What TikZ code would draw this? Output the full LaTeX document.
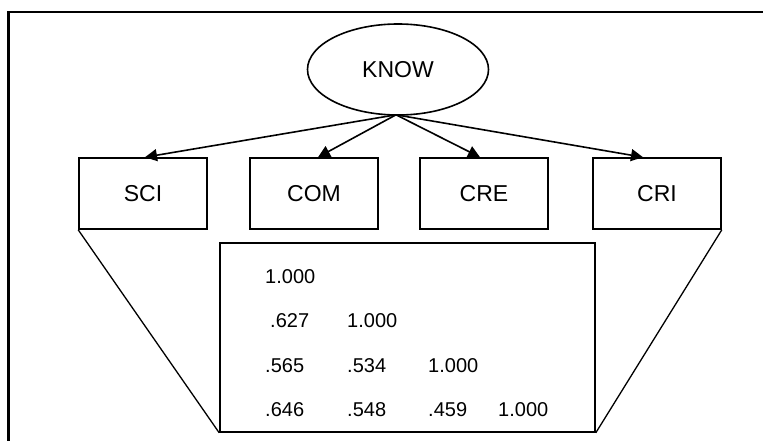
\documentclass[tikz,border=0pt]{standalone}
\usepackage{fontspec}
\setmainfont{Liberation Sans}
\usetikzlibrary{shapes.geometric,arrows.meta,calc}
\begin{document}
\begin{tikzpicture}[x=1pt,y=-1pt,
  latent/.style={draw,ellipse,line width=1.6pt,minimum width=181pt,minimum height=91pt,inner sep=0pt,font=\fontsize{23}{23}\selectfont},
  observed/.style={draw,rectangle,line width=1.6pt,minimum width=128pt,minimum height=71pt,inner sep=0pt,font=\fontsize{23}{23}\selectfont},
  path/.style={line width=1.6pt,-{Triangle[length=12pt,width=12pt]}},
  num/.style={anchor=base west,inner sep=0pt,font=\fontsize{20}{20}\selectfont},
  link/.style={line width=1.3pt}]
\useasboundingbox (0,0) rectangle (763,441);
% outer frame
\draw[line width=2.6pt] (8.3,445) -- (8.3,12) -- (770,12);
% latent factor and indicators
\node[latent] (KNOW) at (398,69.5) {KNOW};
\node[observed] (SCI) at (143,193.5) {SCI};
\node[observed] (COM) at (314,193.5) {COM};
\node[observed] (CRE) at (484,193.5) {CRE};
\node[observed] (CRI) at (657,193.5) {CRI};
\draw[path] ($(KNOW.south)+(-2,-1)$) -- ($(SCI.north)+(2,0)$);
\draw[path] ($(KNOW.south)+(-2,-1)$) -- ($(COM.north)+(4,0)$);
\draw[path] ($(KNOW.south)+(-2,-1)$) -- ($(CRE.north)+(-4,0)$);
\draw[path] ($(KNOW.south)+(-2,-1)$) -- ($(CRI.north)+(-14,0)$);
% correlation matrix
\node[draw,rectangle,line width=1.6pt,minimum width=375pt,minimum height=189pt,inner sep=0pt] (M) at (407.5,337.5) {};
\draw[link] (SCI.south west) -- (M.south west);
\draw[link] (CRI.south east) -- (M.south east);
\node[num] (r11) at (265,283.5) {1.000};
\node[num] (r21) at (270,327.5) {.627};
\node[num] (r22) at (347,327.5) {1.000};
\node[num] (r31) at (265,372) {.565};
\node[num] (r32) at (347,372) {.534};
\node[num] (r33) at (428,372) {1.000};
\node[num] (r41) at (265,416.5) {.646};
\node[num] (r42) at (347,416.5) {.548};
\node[num] (r43) at (428,416.5) {.459};
\node[num] (r44) at (498,416.5) {1.000};
\end{tikzpicture}
\end{document}
